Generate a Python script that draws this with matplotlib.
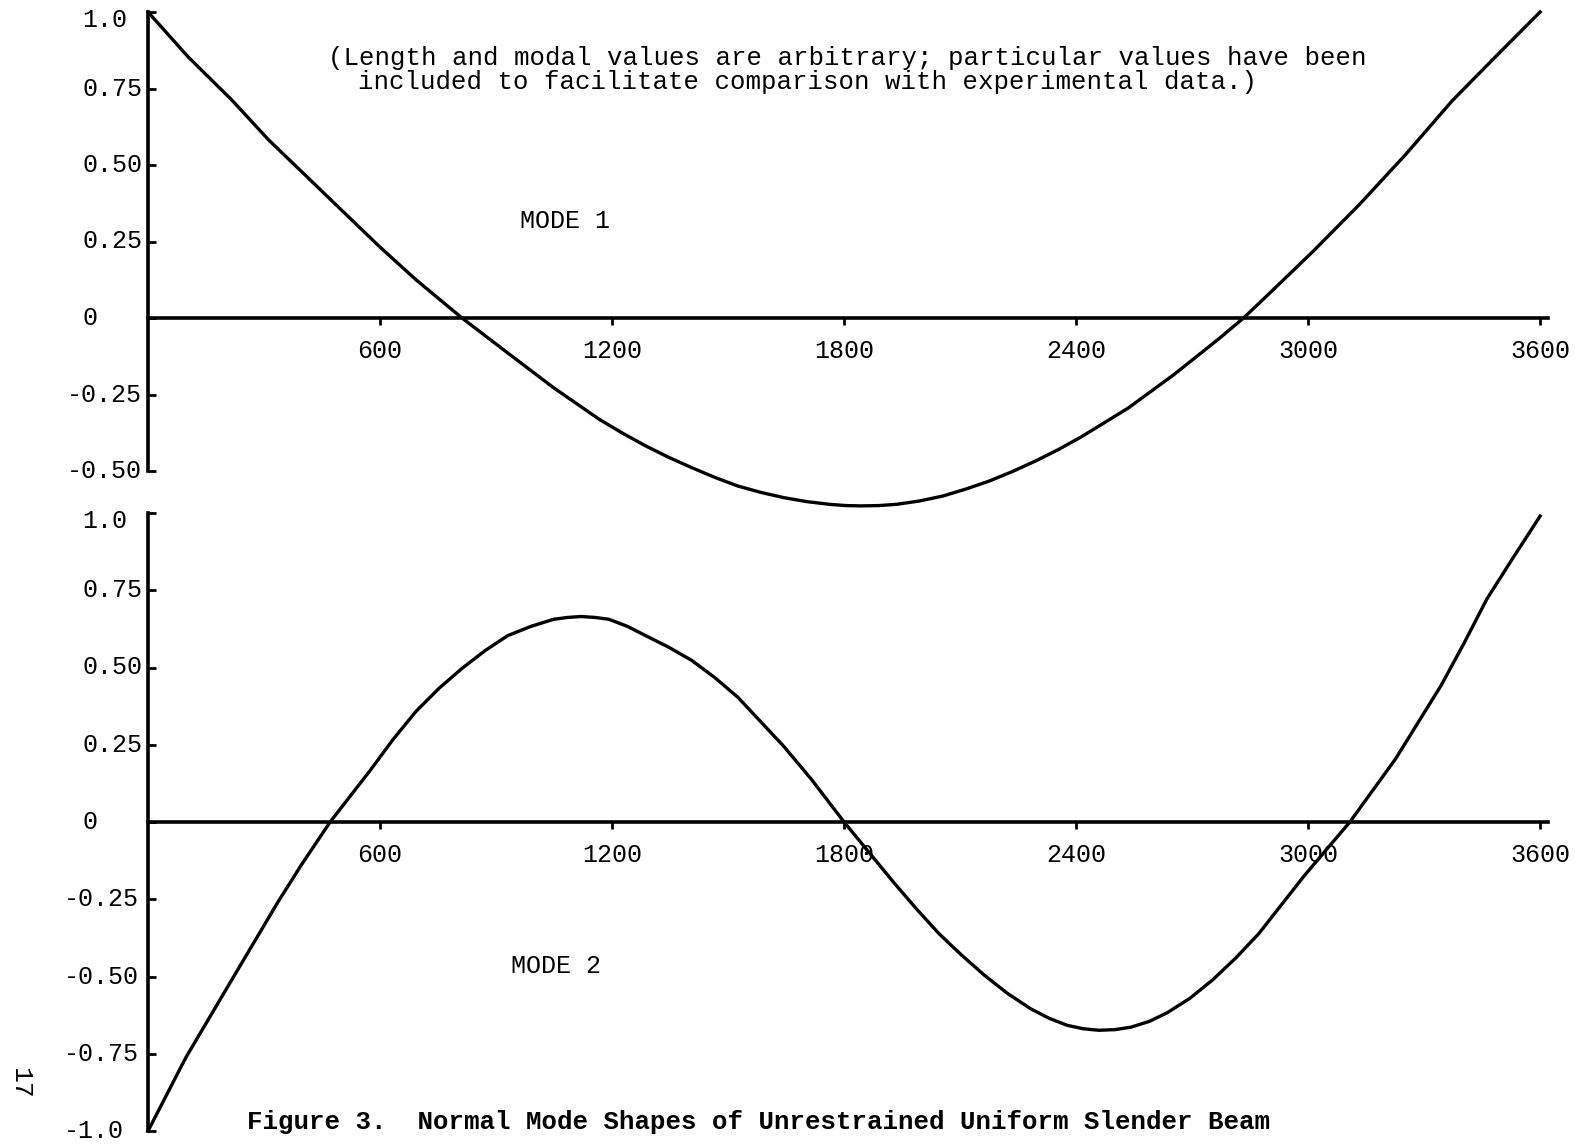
import matplotlib
matplotlib.use('Agg')
import matplotlib.pyplot as plt
import matplotlib.transforms as mtransforms

plt.rcParams['font.family'] = ['Liberation Mono', 'DejaVu Sans Mono']

W, H = 1582, 1145  # output size in pixels (dpi 100)

# mode shapes
mode1_x = [0, 104, 217, 312, 455, 598, 693, 812, 930, 1049, 1168, 1228, 1287, 1346, 1406,
           1466, 1525, 1585, 1644, 1703, 1763, 1805, 1844, 1890, 1935, 1995, 2055, 2115,
           2175, 2235, 2294, 2354, 2414, 2534, 2653, 2773, 2833, 2893, 3013, 3132, 3252,
           3372, 3491, 3600]
mode1_y = [1.0, 0.853, 0.712, 0.582, 0.408, 0.234, 0.125, 0.0, -0.114, -0.228, -0.332,
           -0.377, -0.418, -0.455, -0.489, -0.521, -0.549, -0.570, -0.587, -0.600, -0.609,
           -0.613, -0.614, -0.613, -0.609, -0.598, -0.582, -0.559, -0.533, -0.502, -0.468,
           -0.430, -0.388, -0.295, -0.185, -0.064, 0.0, 0.072, 0.218, 0.37, 0.534, 0.709,
           0.862, 1.0]

mode2_x = [0, 98, 217, 336, 396, 471, 574, 633, 693, 752, 812, 871, 930, 990, 1049, 1085,
           1120, 1156, 1192, 1240, 1287, 1346, 1406, 1466, 1525, 1644, 1715, 1800, 1928,
           1987, 2046, 2105, 2164, 2223, 2282, 2330, 2377, 2418, 2459, 2500, 2542, 2590,
           2636, 2695, 2754, 2813, 2872, 2990, 3108, 3226, 3344, 3403, 3462, 3530, 3600]
mode2_y = [-1.0, -0.762, -0.51, -0.259, -0.14, 0.0, 0.166, 0.266, 0.358, 0.432, 0.497,
           0.554, 0.603, 0.633, 0.656, 0.662, 0.665, 0.662, 0.656, 0.633, 0.603, 0.566,
           0.523, 0.467, 0.404, 0.245, 0.139, 0.0, -0.195, -0.281, -0.362, -0.432, -0.497,
           -0.555, -0.604, -0.635, -0.658, -0.669, -0.674, -0.672, -0.664, -0.645, -0.617,
           -0.570, -0.51, -0.440, -0.362, -0.174, 0.0, 0.204, 0.442, 0.578, 0.721, 0.855,
           0.99]

xticks = [600, 1200, 1800, 2400, 3000, 3600]
yticks1 = [1.0, 0.75, 0.5, 0.25, 0, -0.25, -0.5]
ylabels1 = ['1.0', '0.75', '0.50', '0.25', '0', '-0.25', '-0.50']
yticks2 = [1.0, 0.75, 0.5, 0.25, 0, -0.25, -0.5, -0.75, -1.0]
ylabels2 = ['1.0', '0.75', '0.50', '0.25', '0', '-0.25', '-0.50', '-0.75', '-1.0']

note1 = '(Length and modal values are arbitrary; particular values have been'
note2 = 'included to facilitate comparison with experimental data.)'
caption = 'Figure 3.  Normal Mode Shapes of Unrestrained Uniform Slender Beam'

fsz = 18
lw_ax = 2.6
lw_curve = 2.4


def box(left, top, right, bottom):
    # pixel box -> figure fraction
    return [left / W, 1 - bottom / H, (right - left) / W, (bottom - top) / H]


def setup(ax, ylo, yhi, yticks, ylabels, neg_x):
    ax.patch.set_visible(False)
    ax.set_xlim(0, 3625)
    ax.set_ylim(ylo, yhi)
    for s in ['top', 'right']:
        ax.spines[s].set_visible(False)
    ax.spines['bottom'].set_position(('data', 0))
    ax.spines['bottom'].set_bounds(0, 3620)
    ax.spines['left'].set_bounds(min(yticks), max(yticks))
    ax.spines['left'].set_linewidth(lw_ax)
    ax.spines['bottom'].set_linewidth(lw_ax)
    ax.set_xticks(xticks)
    ax.set_xticklabels([str(v) for v in xticks])
    ax.set_yticks(yticks)
    ax.tick_params(axis='x', direction='out', length=5, width=2.0, pad=10, labelsize=fsz)
    ax.tick_params(axis='y', direction='in', length=6, width=2.0, labelleft=False)
    trans = mtransforms.blended_transform_factory(ax.figure.transFigure, ax.transData)
    down = mtransforms.offset_copy(trans, fig=ax.figure, y=-8, units='dots')
    for v, lab in zip(yticks, ylabels):
        xx = neg_x if lab.startswith('-') else 82
        tr = down if v == 1.0 else trans
        ax.text(xx / W, v, lab, transform=tr, ha='left', va='center',
                fontsize=fsz, clip_on=False)


fig = plt.figure(figsize=(W / 100, H / 100), dpi=100)

# top panel: mode 1
ax1 = fig.add_axes(box(148, 12 - 0.03 * 306, 148 + 3625 * 0.3867, 318 + 0.64 * 306))
ax1.plot(mode1_x, mode1_y, '-k', lw=lw_curve, clip_on=False, solid_joinstyle='round')
setup(ax1, -0.64, 1.03, yticks1, ylabels1, 67)
ax1.text(520 / W, 1 - 221 / H, 'MODE 1', transform=fig.transFigure,
         ha='left', va='center', fontsize=fsz)

# bottom panel: mode 2
ax2 = fig.add_axes(box(148, 513 - 0.03 * 309, 148 + 3625 * 0.3867, 1131 + 0.03 * 309))
ax2.plot(mode2_x, mode2_y, '-k', lw=lw_curve, clip_on=False, solid_joinstyle='round')
setup(ax2, -1.03, 1.03, yticks2, ylabels2, 64)
ax2.text(511 / W, 1 - 966 / H, 'MODE 2', transform=fig.transFigure,
         ha='left', va='center', fontsize=fsz)

# note, caption and page number
fig.text(328 / W, 1 - 58 / H, note1, ha='left', va='center', fontsize=18.5)
fig.text(358 / W, 1 - 82 / H, note2, ha='left', va='center', fontsize=18.5)
fig.text(247 / W, 1 - 1122 / H, caption, ha='left', va='center', fontsize=18.5,
         weight='bold')
fig.text(20 / W, 1 - 1083 / H, '17', ha='center', va='center', fontsize=19,
         rotation=-90)

fig.savefig('out.png', dpi=100, facecolor='white')
